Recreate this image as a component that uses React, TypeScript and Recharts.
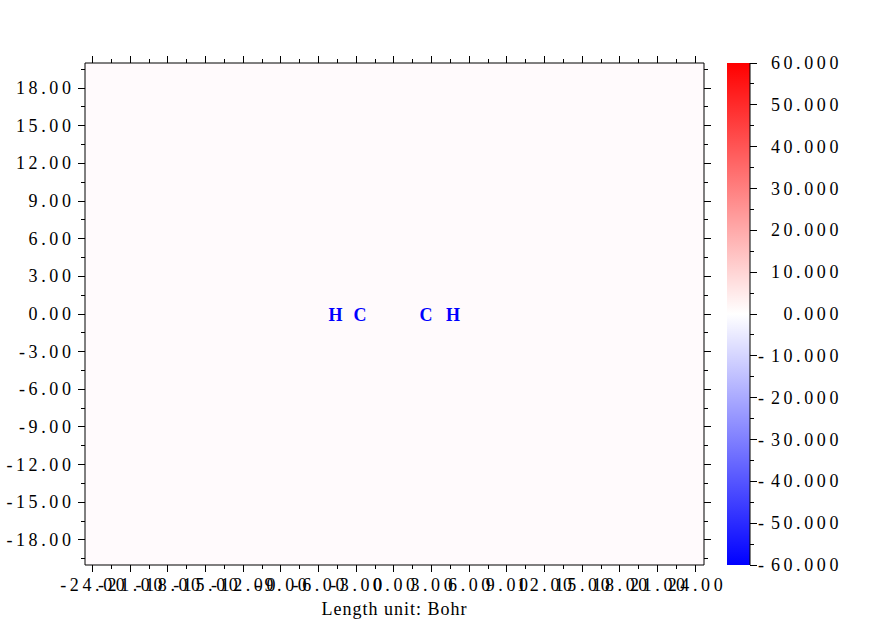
import React from 'react';
import { ScatterChart, ComposedChart, Scatter, XAxis, YAxis, ReferenceArea } from 'recharts';

// ---- data ----
const xTicks = [-24, -22.5, -21, -19.5, -18, -16.5, -15, -13.5, -12, -10.5, -9, -7.5, -6, -4.5, -3, -1.5, 0, 1.5, 3, 4.5, 6, 7.5, 9, 10.5, 12, 13.5, 15, 16.5, 18, 19.5, 21, 22.5, 24];
const yTicks = [-19.5, -18, -16.5, -15, -13.5, -12, -10.5, -9, -7.5, -6, -4.5, -3, -1.5, 0, 1.5, 3, 4.5, 6, 7.5, 9, 10.5, 12, 13.5, 15, 16.5, 18, 19.5];
const cbTicks = [-60, -55, -50, -45, -40, -35, -30, -25, -20, -15, -10, -5, 0, 5, 10, 15, 20, 25, 30, 35, 40, 45, 50, 55, 60];
const xDomain = [-24.6, 24.7];
const yDomain = [-20, 20];
const cbDomain = [-60, 60];
const cbColors = ['#ff0000', '#ffffff', '#0000ff']; // top (max) -> middle (0) -> bottom (min)
const atomLabels = ['H', 'C', 'C', 'H'];
const atomX = [-4.64, -2.69, 2.56, 4.71];
const atomY = [0, 0, 0, 0];
const cbDummy = [{ x: 0.5, y: 0 }];

const atoms = atomLabels.map((label, i) => ({ x: atomX[i], y: atomY[i], label }));

const FONT = '"Liberation Serif", "Times New Roman", serif';
const LS = '3.6px';
const isMajor = (v: number, step: number) => Math.abs(v / step - Math.round(v / step)) < 1e-6;

function BottomTick(props: any) {
  const { x, y, payload } = props;
  const v = payload.value;
  const major = isMajor(v, 3);
  return (
    <g>
      <line x1={x} y1={y} x2={x} y2={y + (major ? 7 : 4)} stroke="#000" shapeRendering="crispEdges" />
      {major && (
        <text x={x + 1.8} y={y + 26} textAnchor="middle" fontFamily={FONT} fontSize={18} fill="#000" style={{ letterSpacing: LS }}>
          {v.toFixed(2)}
        </text>
      )}
    </g>
  );
}

function TopTick(props: any) {
  const { x, y, payload } = props;
  const major = isMajor(payload.value, 3);
  return <line x1={x} y1={y} x2={x} y2={y - (major ? 7 : 4)} stroke="#000" shapeRendering="crispEdges" />;
}

function LeftTick(props: any) {
  const { x, y, payload } = props;
  const v = payload.value;
  const major = isMajor(v, 3);
  return (
    <g>
      <line x1={x} y1={y} x2={x - (major ? 7 : 4)} y2={y} stroke="#000" shapeRendering="crispEdges" />
      {major && (
        <text x={x - 10.5} y={y + 6} textAnchor="end" fontFamily={FONT} fontSize={18} fill="#000" style={{ letterSpacing: LS }}>
          {v.toFixed(2)}
        </text>
      )}
    </g>
  );
}

function RightTick(props: any) {
  const { x, y, payload } = props;
  const major = isMajor(payload.value, 3);
  return <line x1={x} y1={y} x2={x + (major ? 7 : 4)} y2={y} stroke="#000" shapeRendering="crispEdges" />;
}

function ColorbarTick(props: any) {
  const { x, y, payload } = props;
  const v = payload.value;
  const major = isMajor(v, 10);
  const s = v.toFixed(3);
  const neg = s.startsWith('-');
  return (
    <g>
      <line x1={x} y1={y} x2={x + (major ? 7 : 4)} y2={y} stroke="#000" shapeRendering="crispEdges" />
      {major && (
        <text x={x + 92} y={y + 6} textAnchor="end" fontFamily={FONT} fontSize={18} fill="#000" style={{ letterSpacing: LS }}>
          {neg && <tspan style={{ letterSpacing: '7px' }}>-</tspan>}
          <tspan>{neg ? s.slice(1) : s}</tspan>
        </text>
      )}
    </g>
  );
}

function AtomLabel(props: any) {
  const { cx, cy, payload } = props;
  return (
    <text x={cx} y={cy + 6.5} textAnchor="middle" fontFamily={FONT} fontWeight="bold" fontSize={18} fill="#0000ff">
      {payload.label}
    </text>
  );
}

function XLabel(props: any) {
  const vb = props.viewBox || {};
  return (
    <text x={vb.x + vb.width / 2} y={vb.y + 50} textAnchor="middle" fontFamily={FONT} fontSize={18} fill="#000" style={{ letterSpacing: '1px' }}>
      Length unit: Bohr
    </text>
  );
}

function ColorbarRect(props: any) {
  const { x, y, width, height } = props;
  return (
    <g>
      <defs>
        <linearGradient id="cbGrad2" x1="0" y1="0" x2="0" y2="1">
          <stop offset="0" stopColor={cbColors[0]} />
          <stop offset="0.5" stopColor={cbColors[1]} />
          <stop offset="1" stopColor={cbColors[2]} />
        </linearGradient>
      </defs>
      <rect x={x} y={y} width={width} height={height} fill="url(#cbGrad2)" stroke="none" />
    </g>
  );
}

export default function App() {
  return (
    <div style={{ position: 'absolute', left: 0, top: 0, width: 874, height: 624, background: '#fff' }}>
      <div style={{ position: 'absolute', left: 0, top: 0 }}>
        <ScatterChart width={874} height={624} margin={{ top: 53, right: 160, bottom: 19, left: 0 }}>
          <XAxis
            xAxisId={0}
            dataKey="x"
            type="number"
            domain={xDomain}
            allowDataOverflow
            ticks={xTicks}
            interval={0}
            tickSize={0}
            tickMargin={0}
            tickLine={false}
            tick={<BottomTick />}
            axisLine={{ stroke: '#000' }}
            height={40}
            label={<XLabel />}
          />
          <XAxis
            xAxisId="top"
            orientation="top"
            dataKey="x"
            type="number"
            domain={xDomain}
            allowDataOverflow
            ticks={xTicks}
            interval={0}
            tickSize={0}
            tickMargin={0}
            tickLine={false}
            tick={<TopTick />}
            axisLine={{ stroke: '#000' }}
            height={10}
          />
          <YAxis
            yAxisId={0}
            dataKey="y"
            type="number"
            domain={yDomain}
            allowDataOverflow
            ticks={yTicks}
            interval={0}
            tickSize={0}
            tickMargin={0}
            tickLine={false}
            tick={<LeftTick />}
            axisLine={{ stroke: '#000' }}
            width={85}
          />
          <YAxis
            yAxisId="right"
            orientation="right"
            dataKey="y"
            type="number"
            domain={yDomain}
            allowDataOverflow
            ticks={yTicks}
            interval={0}
            tickSize={0}
            tickMargin={0}
            tickLine={false}
            tick={<RightTick />}
            axisLine={{ stroke: '#000' }}
            width={10}
          />
          <ReferenceArea
            xAxisId={0}
            yAxisId={0}
            x1={xDomain[0]}
            x2={xDomain[1]}
            y1={yDomain[0]}
            y2={yDomain[1]}
            fill="#fffafc"
            fillOpacity={1}
            stroke="none"
          />
          <Scatter xAxisId={0} yAxisId={0} data={atoms} shape={<AtomLabel />} isAnimationActive={false} />
        </ScatterChart>
      </div>
      <div style={{ position: 'absolute', left: 700, top: 0 }}>
        <ComposedChart width={174} height={624} data={cbDummy} margin={{ top: 63, right: 24, bottom: 59, left: 27 }}>
          <XAxis xAxisId="cbx" dataKey="x" type="number" domain={[0, 1]} allowDataOverflow hide height={0} />
          <YAxis
            yAxisId="cb"
            orientation="right"
            dataKey="y"
            type="number"
            domain={cbDomain}
            allowDataOverflow
            ticks={cbTicks}
            interval={0}
            tickSize={0}
            tickMargin={0}
            tickLine={false}
            tick={<ColorbarTick />}
            axisLine={{ stroke: '#000' }}
            width={100}
          />
          <ReferenceArea
            xAxisId="cbx"
            yAxisId="cb"
            x1={0}
            x2={1}
            y1={cbDomain[0]}
            y2={cbDomain[1]}
            fillOpacity={1}
            stroke="none"
            shape={ColorbarRect}
          />
        </ComposedChart>
      </div>
    </div>
  );
}
